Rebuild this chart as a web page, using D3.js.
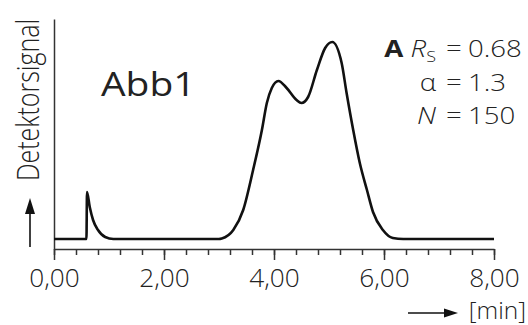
<!DOCTYPE html>
<html>
<head>
<meta charset="utf-8">
<script src="https://cdn.jsdelivr.net/npm/d3@7"></script>
<style>
body { margin: 0; background: #fff; }
svg { display: block; }
text { font-family: "Open Sans", "Noto Sans", sans-serif; font-weight: 300; fill: #222; }
</style>
</head>
<body>
<svg width="528" height="325"></svg>
<script>
// chromatogram (time in min, signal in arbitrary units)
var times = [0, 0.59, 0.60, 0.65, 0.71, 0.80, 0.93, 1.08, 1.30, 3.00, 3.05, 3.26, 3.44, 3.62, 3.78, 3.87,
	3.96, 4.08, 4.23, 4.41, 4.50, 4.62, 4.78, 4.93, 5.06, 5.23, 5.32, 5.44, 5.56, 5.69, 5.80, 5.98, 6.16, 6.35, 8.00];
var signal = [10, 10, 57, 42, 29, 19, 12, 10, 10, 10, 10.5, 19, 39, 79, 119, 146,
	161, 168, 161, 149, 146, 152, 179, 201, 207, 186, 156, 119, 86, 59, 37, 19, 11, 10, 10];
var majorTicks = [0, 2, 4, 6, 8];
var minorTicks = [0, 0.4, 0.8, 1.2, 1.6, 2, 2.4, 2.8, 3.2, 3.6, 4, 4.4, 4.8, 5.2, 5.6, 6, 6.4, 6.8, 7.2, 7.6, 8];
var annoLabels = ["R", "α", "N"];
var annoValues = ["0.68", "1.3", "150"];

var data = times.map(function(t, i) {
	return { x : t, y : signal[i] };
});

var svg = d3.select("svg");
var xScale = d3.scaleLinear().domain([ 0, 8 ]).range([ 54, 494 ]);
var yScale = d3.scaleLinear().domain([ 0, 230 ]).range([ 249, 19 ]);
var fmt = function(d) { return d3.format(".2f")(d).replace(".", ","); };

// minor ticks
svg.append("g").attr("transform", "translate(0,249)")
	.call(d3.axisBottom(xScale).tickValues(minorTicks).tickSize(6).tickSizeOuter(0).tickFormat(""))
	.call(function(g) {
		g.select(".domain").attr("stroke", "#333").attr("stroke-width", 1.5);
		g.selectAll(".tick line").attr("stroke", "#333").attr("stroke-width", 1.5);
	});
// major ticks + labels
svg.append("g").attr("transform", "translate(0,249)")
	.call(d3.axisBottom(xScale).tickValues(majorTicks).tickSize(11).tickSizeOuter(0).tickFormat(fmt))
	.call(function(g) {
		g.select(".domain").remove();
		g.selectAll(".tick line").attr("stroke", "#333").attr("stroke-width", 1.5);
		g.selectAll(".tick text").attr("y", 0).attr("dy", 0)
			.attr("transform", "translate(0,38) scale(1.05,1)")
			.style("font-size", "25px").style("font-family", "'Open Sans', sans-serif")
			.style("font-weight", 300).attr("fill", "#222");
	});
// y axis (no ticks)
svg.append("g").attr("transform", "translate(54,0)")
	.call(d3.axisLeft(yScale).tickValues([]).tickSizeOuter(0))
	.call(function(g) {
		g.select(".domain").attr("stroke", "#333").attr("stroke-width", 1.5);
	});

var line = d3.line().curve(d3.curveMonotoneX).x(function(d) {
	return xScale(d.x);
}).y(function(d) {
	return yScale(d.y);
});
svg.append("path").datum(data).attr("d", line).attr("fill", "none")
	.attr("stroke", "#111").attr("stroke-width", 2.6).attr("stroke-linejoin", "round");

// axis titles with arrows
svg.append("text").attr("transform", "translate(39,100) scale(1.27,1) rotate(-90)")
	.attr("text-anchor", "middle").style("font-size", "25px").text("Detektorsignal");
svg.append("line").attr("x1", 30).attr("x2", 30).attr("y1", 247).attr("y2", 210)
	.attr("stroke", "#111").attr("stroke-width", 1.6);
svg.append("path").attr("d", "M30,198L35,214L25,214Z").attr("fill", "#111");

svg.append("line").attr("x1", 408).attr("x2", 448).attr("y1", 313).attr("y2", 313)
	.attr("stroke", "#111").attr("stroke-width", 1.6);
svg.append("path").attr("d", "M458,313L444,308.5L444,317.5Z").attr("fill", "#111");
svg.append("text").attr("transform", "translate(526,319) scale(1.02,1)")
	.attr("text-anchor", "end").style("font-size", "24px").text("[min]");

// overlay title
svg.append("text").attr("transform", "translate(101,96) scale(1.18,1)")
	.style("font-size", "33px").style("font-weight", 400).attr("fill", "#000").text("Abb1");

// annotations
var rowY = [57, 91, 124];
var anno = svg.append("g");
annoLabels.forEach(function(lab, i) {
	var t = anno.append("text").attr("transform", "translate(436," + rowY[i] + ") scale(1.2,1)")
		.attr("text-anchor", "end").style("font-size", "23px");
	if (i === 0) {
		t.append("tspan").style("font-weight", "bold").text("A ");
		t.append("tspan").style("font-style", "italic").text(lab);
		t.append("tspan").style("font-size", "15px").attr("dy", 5).text("S");
	} else if (i === 2) {
		t.append("tspan").style("font-style", "italic").text(lab);
	} else {
		t.text(lab);
	}
	anno.append("text").attr("transform", "translate(446," + rowY[i] + ") scale(1.2,1)")
		.style("font-size", "23px").text("=");
	anno.append("text").attr("transform", "translate(468," + rowY[i] + ") scale(1.2,1)")
		.style("font-size", "23px").text(annoValues[i]);
});
</script>
</body>
</html>
